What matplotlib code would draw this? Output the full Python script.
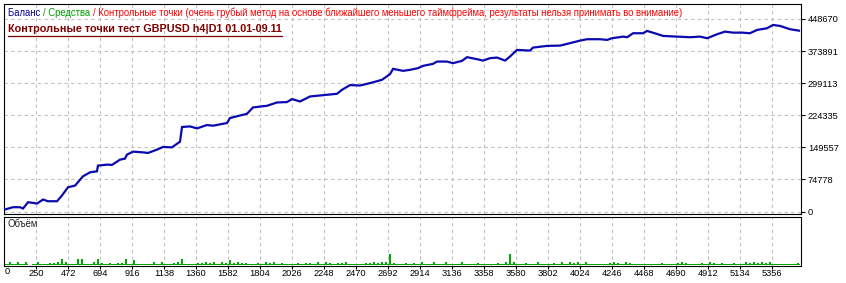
import numpy as np
import matplotlib
matplotlib.use("Agg")
import matplotlib.pyplot as plt
from matplotlib.lines import Line2D

# ---------------- data ----------------
bars = [35, 90, 139, 160, 195, 257, 299, 333, 396, 430, 472, 521, 576, 625, 673, 680,
        743, 777, 833, 867, 881, 923, 992, 1027, 1089, 1131, 1193, 1249, 1263, 1318,
        1367, 1436, 1478, 1575, 1596, 1714, 1755, 1853, 1922, 1991, 2026, 2082, 2151,
        2220, 2338, 2373, 2428, 2498, 2567, 2650, 2706, 2727, 2796, 2845, 2900, 2935,
        3004, 3032, 3101, 3143, 3205, 3240, 3309, 3351, 3400, 3448, 3504, 3538, 3587,
        3677, 3698, 3795, 3885, 3934, 4024, 4073, 4163, 4212, 4246, 4323, 4351, 4392,
        4462, 4489, 4558, 4600, 4697, 4787, 4857, 4906, 4975, 5030, 5086, 5148, 5203,
        5252, 5321, 5363, 5412, 5481, 5543]
balance = [4649, 9996, 9996, 6974, 21620, 18598, 27896, 23944, 23944, 37195, 56490,
           60442, 82062, 91360, 93685, 106936, 109261, 108563, 120884, 123209, 132508,
           139482, 137855, 136460, 144131, 150408, 149478, 162729, 196902, 198297,
           193647, 201551, 199924, 206201, 217824, 227821, 242466, 246418, 254089,
           255019, 261993, 256414, 268038, 270362, 274315, 283613, 294540, 293610,
           299189, 306860, 320111, 332432, 327783, 330107, 334059, 339406, 344055,
           349402, 349402, 345683, 351029, 359631, 354982, 351727, 357307, 358701,
           351727, 361026, 376601, 374974, 381948, 385900, 386597, 390550, 398221,
           401476, 401476, 399848, 403800, 407520, 406125, 415424, 415424, 420771,
           413797, 409147, 407520, 406125, 407520, 403800, 413099, 419144, 416819,
           416819, 415424, 423096, 427048, 434719, 432394, 424723, 421469]

volume = [1, 3, 1, 3, 1, 3, 0, 1, 3, 1, 1, 2, 2, 3, 6, 3, 1, 1, 6, 6, 1, 1, 3, 6, 2,
          1, 2, 1, 2, 2, 6, 1, 5, 1, 1, 1, 1, 3, 1, 3, 1, 1, 2, 3, 6, 1, 1, 1, 2, 2,
          3, 2, 3, 1, 3, 2, 5, 2, 3, 2, 2, 1, 1, 2, 1, 3, 2, 3,
          1, 2, 1, 1, 1, 2, 1, 2, 2, 1, 3, 1, 3, 2, 1, 2, 2, 3, 1, 1, 1, 1, 2, 2,
          3, 2, 3, 3, 12, 2, 1, 1, 2, 1, 2, 1, 3, 1, 1, 3, 1, 1, 3, 1, 1, 1, 3, 1,
          1, 1, 2, 1, 1, 1, 1, 2, 1, 3, 12, 3, 1, 1, 2, 1, 1, 3, 1,
          1, 1, 2, 1, 3, 1, 3, 2, 3, 1, 3, 1, 1, 1, 1, 1, 2, 3, 2, 1, 3, 2, 1, 1,
          1, 1, 1, 1, 1, 2, 1, 1, 1, 2, 3, 2, 1, 1, 1, 2, 1, 3, 2, 1, 2, 1, 1, 2,
          1, 1, 3, 2, 3, 2, 3, 2, 3, 1, 1, 1, 1, 1, 1, 2]
vol_start, vol_step = 42, 27.75

x_ticks = [250, 472, 694, 916, 1138, 1360, 1582, 1804, 2026, 2248, 2470, 2692,
           2914, 3136, 3358, 3580, 3802, 4024, 4246, 4468, 4690, 4912, 5134, 5356]
y_ticks = [0, 74778, 149557, 224335, 299113, 373891, 448670]

header_parts = [("Баланс ", "#000090"), ("/ Средства ", "#00A000"),
                ("/ Контрольные точки (очень грубый метод на основе ближайшего меньшего "
                 "таймфрейма, результаты нельзя принимать во внимание)", "#FF0000")]
subtitle = "Контрольные точки тест GBPUSD h4|D1 01.01-09.11"
vol_label = "Объём"

# ---------------- figure ----------------
W, H = 846, 283
plt.rcParams['font.family'] = ['Liberation Sans', 'DejaVu Sans']
fig = plt.figure(figsize=(W / 100, H / 100), dpi=100)
fig.patch.set_facecolor("white")

def px_rect(x0, y0, x1, y1):
    return [x0 / W, 1 - y1 / H, (x1 - x0) / W, (y1 - y0) / H]

ax = fig.add_axes(px_rect(4, 4, 801, 213.5))
axv = fig.add_axes(px_rect(4, 216.5, 801, 266))

xlim = (28, 5557)
grid_kw = dict(color="#C0C0C0", linestyle=(0, (3, 3)), linewidth=0.8)

# main panel
ax.plot(bars, balance, color="#0A0AB0", linewidth=1.6, solid_joinstyle="miter", zorder=3)
ax.set_xlim(*xlim)
ax.set_ylim(-4649, 483538)
ax.set_xticks(x_ticks)
ax.set_yticks(y_ticks)
ax.set_xticklabels([])
ax.yaxis.tick_right()
ax.set_yticklabels([str(v) for v in y_ticks])
ax.tick_params(axis="y", length=3, width=0.8, pad=2, labelsize=6.7, colors="black")
ax.tick_params(axis="x", length=0)
ax.grid(True, **grid_kw)
ax.set_axisbelow(True)
for s in ax.spines.values():
    s.set_linewidth(0.8)
    s.set_color("black")

# volume panel
vx = vol_start + vol_step * np.arange(len(volume))
axv.bar(vx, volume, width=vol_step * 0.45, bottom=0, color="#00A800", linewidth=0)
axv.bar(vx, [1 if v > 0 else 0 for v in volume], width=vol_step, bottom=0,
        color="#00A800", linewidth=0)
axv.set_xlim(*xlim)
axv.set_ylim(-0.6, 49.4)
axv.set_yticks([])
axv.set_xticks(x_ticks)
axv.set_xticklabels([str(v) for v in x_ticks])
axv.tick_params(axis="x", length=2, width=0.8, pad=0.5, labelsize=6.7, colors="black")
axv.xaxis.grid(True, **grid_kw)
axv.set_axisbelow(True)
for s in axv.spines.values():
    s.set_linewidth(0.8)
    s.set_color("black")
axv.text(8 / W, 1 - 224 / H, vol_label, transform=fig.transFigure, fontsize=6.9,
         color="#202020", va="center", ha="left")

# "0" label at the left of x axis
fig.text(7.5 / W, 1 - 272 / H, "0", fontsize=6.7, ha="center", va="center", color="black")

# header row 1 (multicolour)
fig.canvas.draw()
renderer = fig.canvas.get_renderer()
xcur = 8
for txt, col in header_parts:
    t = fig.text(xcur / W, 1 - 13 / H, txt, fontsize=6.85, color=col, ha="left", va="center")
    bb = t.get_window_extent(renderer=renderer)
    xcur = bb.x1

# header row 2 (bold underlined)
t2 = fig.text(8 / W, 1 - 29.5 / H, subtitle, fontsize=7.8, fontweight="bold",
              color="#800000", ha="left", va="center")
bb2 = t2.get_window_extent(renderer=renderer)
fig.add_artist(Line2D([bb2.x0 / W, bb2.x1 / W], [1 - 35.5 / H, 1 - 35.5 / H],
                      transform=fig.transFigure, color="#800000", linewidth=0.9))

fig.savefig("out.png", dpi=100, facecolor="white")
